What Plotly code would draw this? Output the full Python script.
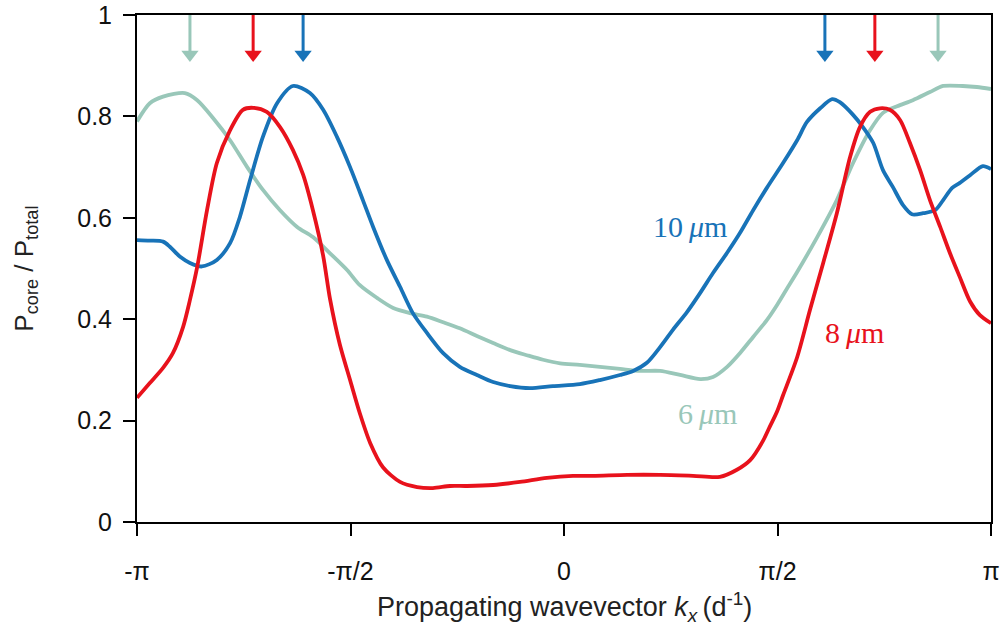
import numpy as np
import plotly.graph_objects as go

PI = np.pi

# Core power fraction vs. propagating wavevector, for three core sizes.
# Wavevectors are given in units of pi (d^-1).
kx_10um = [-1.000, -0.970, -0.939, -0.923, -0.899, -0.876, -0.848, -0.813, -0.782, -0.759,
           -0.735, -0.705, -0.672, -0.635, -0.595, -0.564, -0.532, -0.501, -0.471, -0.447,
           -0.415, -0.384, -0.354, -0.321, -0.283, -0.244, -0.204, -0.166, -0.126, -0.080,
           -0.026, 0.037, 0.084, 0.131, 0.162, 0.194, 0.225, 0.255, 0.288, 0.319,
           0.349, 0.382, 0.412, 0.443, 0.475, 0.513, 0.546, 0.569, 0.600, 0.628,
           0.646, 0.677, 0.700, 0.724, 0.747, 0.770, 0.794, 0.815, 0.841, 0.869,
           0.888, 0.909, 0.927, 0.951, 0.981, 1.000]
p_10um = [0.556, 0.555, 0.553, 0.543, 0.523, 0.511, 0.504, 0.517, 0.550, 0.602,
          0.675, 0.760, 0.826, 0.860, 0.846, 0.813, 0.760, 0.700, 0.635, 0.582,
          0.517, 0.464, 0.412, 0.373, 0.333, 0.306, 0.290, 0.276, 0.268, 0.264,
          0.268, 0.272, 0.280, 0.290, 0.298, 0.314, 0.345, 0.379, 0.414, 0.452,
          0.491, 0.531, 0.570, 0.615, 0.659, 0.708, 0.753, 0.789, 0.816, 0.834,
          0.828, 0.803, 0.779, 0.748, 0.694, 0.661, 0.625, 0.607, 0.609, 0.615,
          0.635, 0.659, 0.669, 0.684, 0.702, 0.696]

kx_8um = [-1.000, -0.970, -0.939, -0.916, -0.892, -0.876, -0.859, -0.836, -0.813, -0.782,
          -0.752, -0.728, -0.696, -0.665, -0.635, -0.611, -0.588, -0.564, -0.548, -0.525,
          -0.501, -0.478, -0.454, -0.424, -0.384, -0.344, -0.307, -0.267, -0.227, -0.166,
          -0.103, -0.040, 0.021, 0.068, 0.148, 0.225, 0.302, 0.365, 0.405, 0.436,
          0.466, 0.482, 0.499, 0.513, 0.546, 0.576, 0.607, 0.639, 0.670, 0.693,
          0.717, 0.740, 0.763, 0.787, 0.810, 0.834, 0.857, 0.881, 0.904, 0.927,
          0.951, 0.974, 1.000]
p_8um = [0.245, 0.274, 0.304, 0.333, 0.385, 0.438, 0.503, 0.615, 0.708, 0.773,
         0.813, 0.817, 0.809, 0.779, 0.734, 0.685, 0.615, 0.525, 0.440, 0.350,
         0.280, 0.214, 0.156, 0.108, 0.079, 0.069, 0.067, 0.071, 0.071, 0.073,
         0.079, 0.087, 0.091, 0.091, 0.093, 0.093, 0.091, 0.089, 0.103, 0.122,
         0.160, 0.188, 0.218, 0.250, 0.325, 0.418, 0.511, 0.609, 0.720, 0.779,
         0.809, 0.816, 0.813, 0.793, 0.748, 0.694, 0.635, 0.582, 0.530, 0.483,
         0.435, 0.408, 0.392]

kx_6um = [-1.000, -0.970, -0.939, -0.888, -0.859, -0.822, -0.782, -0.742, -0.705, -0.665,
          -0.625, -0.588, -0.548, -0.508, -0.478, -0.438, -0.400, -0.361, -0.321, -0.283,
          -0.244, -0.204, -0.166, -0.126, -0.087, -0.049, -0.009, 0.037, 0.084, 0.131,
          0.178, 0.225, 0.272, 0.319, 0.349, 0.382, 0.412, 0.443, 0.475, 0.499,
          0.522, 0.546, 0.593, 0.639, 0.677, 0.717, 0.747, 0.780, 0.817, 0.857,
          0.888, 0.934, 0.967, 1.000]
p_6um = [0.790, 0.826, 0.839, 0.846, 0.832, 0.797, 0.753, 0.700, 0.655, 0.615,
         0.582, 0.562, 0.530, 0.497, 0.467, 0.442, 0.422, 0.412, 0.405, 0.394,
         0.382, 0.367, 0.353, 0.339, 0.329, 0.320, 0.313, 0.310, 0.306, 0.302,
         0.298, 0.298, 0.290, 0.282, 0.286, 0.306, 0.333, 0.365, 0.398, 0.428,
         0.460, 0.493, 0.562, 0.635, 0.708, 0.773, 0.807, 0.820, 0.832, 0.848,
         0.860, 0.860, 0.858, 0.854]

# Band-edge markers (units of pi), one pair per core size
arrow_kx_6um = [-0.876, 0.876]
arrow_kx_8um = [-0.728, 0.728]
arrow_kx_10um = [-0.611, 0.611]

# Curve labels: text, position (kx in units of pi, P)
labels = [("10\u2009<i>\u03bc</i>m", 0.295, 0.582),
          ("6\u2009<i>\u03bc</i>m", 0.337, 0.215),
          ("8\u2009<i>\u03bc</i>m", 0.681, 0.373)]

x_tick_vals = [-1, -0.5, 0, 0.5, 1]
x_tick_text = ["-\u03c0", "-\u03c0/2", "0", "\u03c0/2", "\u03c0"]
y_tick_vals = [0, 0.2, 0.4, 0.6, 0.8, 1]
y_tick_text = ["0", "0.2", "0.4", "0.6", "0.8", "1"]

TEAL = "#99c7b9"
BLUE = "#1873b8"
RED = "#e8121c"

fig = go.Figure()

series = [(kx_6um, p_6um, TEAL), (kx_10um, p_10um, BLUE), (kx_8um, p_8um, RED)]
for kx, p, color in series:
    fig.add_trace(go.Scatter(
        x=np.array(kx) * PI, y=p, mode="lines",
        line=dict(color=color, width=3.8, shape="spline", smoothing=0.8),
        hoverinfo="skip", showlegend=False))

# Downward arrows from the top frame: shaft plus triangular head
ARROW_TOP = 1.0
ARROW_HEAD_Y = 0.922
for kxs, color in [(arrow_kx_6um, TEAL), (arrow_kx_8um, RED), (arrow_kx_10um, BLUE)]:
    for k in kxs:
        fig.add_trace(go.Scatter(
            x=[k * PI, k * PI], y=[ARROW_TOP, ARROW_HEAD_Y], mode="lines",
            line=dict(color=color, width=3), hoverinfo="skip", showlegend=False,
            cliponaxis=False))
        fig.add_trace(go.Scatter(
            x=[k * PI], y=[ARROW_HEAD_Y], mode="markers",
            marker=dict(symbol="triangle-down", size=15, color=color, line=dict(width=0)),
            hoverinfo="skip", showlegend=False, cliponaxis=False))

for (text, kx, p), color in zip(labels, [BLUE, TEAL, RED]):
    fig.add_annotation(x=kx * PI, y=p, text=text, showarrow=False,
                       font=dict(family="Liberation Serif", size=30, color=color),
                       xanchor="center", yanchor="middle")

# Axis titles
fig.add_annotation(xref="paper", yref="paper", x=0.5, y=-0.168,
                   text="Propagating wavevector <i>k<sub>x</sub></i>\u2009(d<sup>-1</sup>)",
                   showarrow=False, xanchor="center", yanchor="middle",
                   font=dict(family="Liberation Sans", size=27, color="#222222"))
fig.add_annotation(xref="paper", yref="paper", x=-0.131, y=0.5,
                   text="P<sub>core</sub> / P<sub>total</sub>", textangle=-90,
                   showarrow=False, xanchor="center", yanchor="middle",
                   font=dict(family="Liberation Sans", size=26, color="#222222"))

axis_common = dict(showline=True, linecolor="black", linewidth=2, mirror=True,
                   ticks="outside", ticklen=12, tickwidth=2, tickcolor="black",
                   showgrid=False, zeroline=False, automargin=False,
                   tickfont=dict(family="Liberation Sans", size=25, color="#111111"))

fig.update_xaxes(range=[-PI, PI], tickvals=np.array(x_tick_vals) * PI,
                 ticktext=x_tick_text, ticklabelstandoff=14, **axis_common)
fig.update_yaxes(range=[0, 1], tickvals=y_tick_vals, ticktext=y_tick_text,
                 ticklabelstandoff=6, **axis_common)

fig.update_layout(width=1003, height=625,
                  margin=dict(l=137, r=12, t=15, b=103),
                  plot_bgcolor="white", paper_bgcolor="white")

fig.write_html("out.html")
